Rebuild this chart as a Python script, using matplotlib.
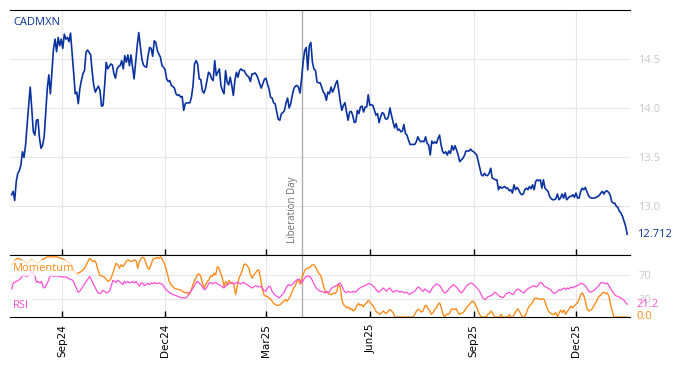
import pandas as pd
import matplotlib
matplotlib.use('Agg')
import matplotlib.pyplot as plt
import matplotlib.dates as mdates
import matplotlib.transforms as mtransforms
from matplotlib.ticker import FormatStrFormatter

ticker = 'CADMXN'
start_date = '2024-07-18'
end_date = '2026-01-15'
event_date = '2025-04-02'
event_name = 'Liberation Day'

# daily close
price = [
    13.115, 13.149, 13.057, 13.25, 13.334, 13.361, 13.419, 13.554, 13.497, 13.622,
    13.824, 14.027, 14.213, 13.993, 13.757, 13.723, 13.875, 13.882, 13.689, 13.588,
    13.622, 13.706, 13.959, 14.196, 14.338, 14.145, 14.365, 14.601, 14.703, 14.574,
    14.72, 14.635, 14.703, 14.608, 14.753, 14.703, 14.72, 14.676, 14.764, 14.568,
    14.365, 14.145, 14.162, 14.044, 14.196, 14.28, 14.348, 14.382, 14.568, 14.591,
    14.568, 14.541, 14.365, 14.23, 14.162, 14.196, 14.223, 14.179, 14.017, 14.027,
    14.23, 14.466,
    14.399, 14.426, 14.449, 14.439, 14.348, 14.304, 14.399, 14.426, 14.432, 14.483,
    14.399, 14.534, 14.466, 14.541, 14.432, 14.541, 14.416, 14.297, 14.466, 14.635,
    14.77, 14.635, 14.5, 14.439, 14.422, 14.416, 14.534, 14.618, 14.608, 14.527,
    14.686, 14.669, 14.584, 14.551, 14.517, 14.432, 14.416, 14.389, 14.297, 14.27,
    14.28, 14.23, 14.22, 14.203, 14.145, 14.128, 14.135, 14.111, 14.118, 13.976,
    14.044, 14.054, 14.051, 14.054, 14.111, 14.23, 14.449, 14.483, 14.449, 14.297,
    14.291, 14.179, 14.152, 14.196, 14.28, 14.365, 14.348, 14.297,
    14.28, 14.483, 14.331, 14.365, 14.399, 14.23, 14.179, 14.145, 14.382, 14.264,
    14.236, 14.314, 14.23, 14.128, 14.28, 14.365, 14.314, 14.382, 14.399, 14.382,
    14.382, 14.348, 14.331, 14.314, 14.27, 14.348, 14.348, 14.358, 14.338, 14.297,
    14.247, 14.203, 14.247, 14.291, 14.304, 14.247, 14.196, 14.111, 14.101, 14.054,
    14.041, 13.959, 13.885, 13.875, 13.943, 13.953, 13.976, 14.054, 14.101, 14.0,
    14.044, 14.128, 14.196, 14.223, 14.23, 14.213, 14.152, 14.297, 14.466, 14.584,
    14.618, 14.389, 14.635, 14.669, 14.466, 14.399,
    14.382, 14.264, 14.257, 14.257, 14.213, 14.162, 14.145, 14.078, 14.162, 14.145,
    14.213, 14.162, 14.196, 14.247, 14.28, 14.179, 14.061, 13.976, 14.027, 14.054,
    13.959, 13.875, 13.959, 13.966, 13.926, 13.851, 13.858, 13.976, 13.943, 14.01,
    14.02, 13.959, 14.01, 14.01, 14.135, 14.027, 14.034, 14.027, 13.976, 13.926,
    13.943, 13.851, 13.909, 13.953, 13.943, 13.892, 13.885, 13.909, 14.0, 13.926,
    13.858, 13.797, 13.841, 13.774, 13.784, 13.757, 13.764, 13.831, 13.74, 13.723,
    13.672, 13.628, 13.628, 13.628, 13.628, 13.655, 13.706,
    13.672, 13.655, 13.662, 13.655, 13.706, 13.639, 13.622, 13.52, 13.662, 13.639,
    13.655, 13.639, 13.689, 13.723, 13.622, 13.554, 13.537, 13.554, 13.52, 13.561,
    13.537, 13.615, 13.571, 13.615, 13.571, 13.52, 13.453, 13.47, 13.486, 13.514,
    13.561, 13.561, 13.561, 13.581, 13.561, 13.554, 13.537, 13.52, 13.453, 13.385,
    13.318, 13.307, 13.334, 13.311, 13.311, 13.334, 13.385, 13.284, 13.277, 13.267,
    13.267, 13.166, 13.199, 13.182, 13.189, 13.199, 13.182, 13.182, 13.155, 13.166,
    13.132, 13.216, 13.166,
    13.189, 13.166, 13.132, 13.115, 13.122, 13.166, 13.182, 13.166, 13.199, 13.176,
    13.216, 13.166, 13.25, 13.267, 13.257, 13.267, 13.182, 13.267, 13.182, 13.166,
    13.149, 13.098, 13.074, 13.064, 13.064, 13.074, 13.122, 13.064, 13.081, 13.122,
    13.081, 13.132, 13.064, 13.081, 13.098, 13.098, 13.115, 13.088, 13.132, 13.081,
    13.081, 13.149, 13.182, 13.166, 13.189, 13.149, 13.108, 13.088, 13.081, 13.081,
    13.081, 13.088, 13.098, 13.108, 13.132, 13.149, 13.122, 13.149, 13.155, 13.139,
    13.115, 13.047, 13.03, 13.03, 12.997, 12.986, 12.946, 12.929, 12.895, 12.845,
    12.794, 12.712,
]

momentum = [
    86.6, 90.4, 94.8, 96.4, 97.5, 95.9, 94.8, 93.7, 92.1, 90.4,
    89.3, 92.1, 94.8, 93.7, 92.1, 90.4, 89.3, 92.1, 94.8, 95.9,
    97.5, 99.2, 100, 100, 100, 100, 100, 100, 99.2, 98.1,
    97.5, 95.9, 94.8, 93.2, 92.1, 89.3, 86.6, 81.1, 75.6, 71.8,
    72.9, 74.0, 75.6, 78.4, 81.1, 86.6, 92.1, 97.5, 94.8, 92.1,
    93.7, 89.3, 78.4, 70.1, 68.5, 67.4, 66.3, 63.0, 59.2, 60.8,
    64.7, 72.9, 81.1, 89.3, 86.6, 81.1, 86.6, 83.8, 86.6, 92.1,
    94.8, 93.7, 92.1, 93.2, 94.8, 93.7, 81.1, 92.1, 97.5, 99.2,
    97.5, 89.3, 81.1, 79.5, 86.6, 94.8, 97.5, 97.5, 99.2, 97.5,
    100, 94.8, 89.3, 81.1, 70.1, 59.2, 53.7, 51.0, 48.2, 46.6,
    46.0, 45.5, 44.4, 42.7, 41.1, 40.0, 41.1, 37.3, 42.7, 51.0,
    59.2, 64.7, 70.1,
    71.8, 67.4, 56.4, 48.2, 53.7, 59.2, 61.9, 68.5, 67.4, 72.9,
    70.1, 83.8, 81.1, 72.9, 64.7, 51.0, 59.2, 53.7, 60.8, 56.4,
    57.5, 53.7, 37.3, 51.0, 64.7, 70.1, 77.3, 86.6, 88.2, 84.9,
    81.1, 70.1, 64.7, 70.1, 72.9, 77.3, 78.4, 64.7, 48.2, 37.3,
    34.5, 34.5, 31.8, 30.1, 26.3, 22.5, 20.8, 19.2, 19.2, 20.8,
    23.6, 26.3, 29.0, 26.3, 30.1, 34.5, 41.1, 48.2, 52.1, 59.2,
    60.8, 54.3, 64.7, 72.9, 78.4, 81.1, 81.1, 82.7, 86.6, 86.6,
    83.8, 78.4, 72.9, 70.1, 63.0, 51.0, 42.7, 41.1, 38.9, 37.3,
    37.3, 40.0, 38.9, 42.7, 53.7, 51.0, 29.0, 20.8, 18.1, 15.3,
    17.0, 12.6, 13.7, 9.9, 12.6, 18.1, 22.5, 19.2, 20.8, 17.0,
    20.8, 23.6, 27.9, 24.7, 20.8, 18.1, 12.6, 8.2, 6.0, 4.4,
    7.1, 9.9, 7.1, 6.0, 9.9, 12.6, 9.9, 7.1, 0, 0,
    0, 0, 0, 0, 0, 0, 0, 0, 0, 0,
    4.4, 9.9, 12.6, 11.5, 8.2, 9.9, 18.1, 19.2,
    13.7, 9.9, 4.4, 7.1, 12.6, 15.3, 20.8, 23.6, 15.3, 4.4,
    0, 4.4, 4.4, 6.0, 12.6, 13.7, 12.6, 13.7, 7.1, 4.4,
    6.0, 7.1, 9.9, 15.3, 18.1, 20.8, 24.7, 26.3, 23.6, 18.1,
    11.5, 4.4, 0, 0, 0, 0, 4.4, 6.0, 9.9, 6.0,
    0, 0, 0, 0, 4.4, 0, 0, 0, 0, 4.4,
    0, 0, 4.4, 9.9, 13.7, 9.9, 4.4, 0, 0, 4.4,
    12.6, 18.1, 20.8, 24.7, 30.1, 31.8, 30.1, 30.1, 29.0, 30.1,
    29.0, 20.8, 12.6, 8.2, 6.0, 4.4, 4.4, 7.1, 0, 7.1,
    11.5, 7.1, 11.5, 4.4, 9.9, 12.6, 18.1, 15.3, 18.1, 20.8,
    23.6, 29.0, 37.3, 40.0, 34.5, 23.6, 12.6, 9.9, 11.5, 13.7,
    19.2, 23.6, 29.0, 34.5, 35.6, 40.0, 41.1, 38.9, 40.0, 34.5,
    20.8, 9.9, 0, 0, 0, 0, 0, 0, 0, 0,
    0.0,
]

rsi = [
    46.6, 56.4, 58.1, 59.2, 60.8, 63.0, 66.3, 70.1, 68.5, 67.4,
    68.5, 70.1, 77.3, 71.8, 70.1, 57.5, 59.2, 56.4, 59.2, 49.9,
    48.2, 53.7, 59.2, 67.4, 70.1, 67.4, 68.0, 68.5, 68.0, 67.4,
    66.9, 66.3, 66.3, 66.3, 64.7, 63.0, 61.9, 60.8, 53.7, 48.2,
    41.1, 42.7, 46.6, 51.0, 55.3, 59.2, 63.0, 67.4, 61.9, 56.4,
    51.0, 45.5, 40.0, 38.9, 40.0, 44.4, 42.7, 40.0, 41.1, 42.7,
    51.0, 60.8, 59.2, 57.5, 60.8, 59.2, 56.4, 53.7, 59.2, 56.4,
    59.2, 56.4, 57.5, 59.2, 56.4, 59.2, 55.3, 51.0, 56.4, 56.4,
    52.1, 53.7, 56.4, 53.7, 56.4, 55.3, 57.5, 55.3, 55.9, 56.4,
    55.3, 53.7, 49.9, 45.5, 43.3, 41.1, 38.9, 37.3, 36.7, 35.6,
    34.5, 33.4, 32.3, 31.8, 31.8, 31.8, 34.5, 40.0, 42.7, 46.6,
    51.0, 56.4, 59.2,
    56.4, 53.7, 49.9, 45.5, 46.6, 51.0, 56.4, 57.5, 54.8, 56.4,
    57.5, 54.8, 53.7, 52.1, 49.9, 48.2, 51.0, 53.7, 54.8, 56.4,
    56.4, 55.3, 56.4, 57.5, 56.4, 55.3, 56.4, 57.5, 55.3, 53.7,
    52.1, 49.9, 48.2, 49.9, 52.1, 51.0, 49.9, 51.0, 48.2, 44.4,
    42.7, 46.6, 51.0, 49.9, 42.7, 38.9, 35.6, 34.5, 31.8, 33.4,
    37.3, 40.0, 45.5, 51.0, 53.7, 52.1, 53.7, 56.4, 59.2, 61.9,
    63.0, 60.8, 56.4, 61.9, 66.3, 67.4, 68.5, 66.3, 61.9, 56.4,
    51.0, 46.6, 44.4, 42.7, 42.7, 41.1, 40.0, 42.7, 40.0, 44.4,
    48.2, 49.9, 51.0, 52.1, 55.3, 56.4, 52.1, 45.5, 41.1, 41.1,
    42.7, 41.1, 41.1, 42.7, 41.1, 42.7, 46.6, 48.2, 49.9, 51.0,
    52.1, 53.7, 55.3, 55.3, 53.7, 51.0, 48.2, 44.4, 41.1, 42.7,
    45.5, 48.2, 45.5, 42.7, 46.6, 48.2, 44.4, 41.1, 42.7, 44.4,
    42.7, 41.1, 42.7, 41.1, 40.0, 41.1, 38.9, 37.3, 40.0, 41.1,
    42.7, 46.6, 49.9, 48.2, 44.4, 42.7, 46.6, 44.4,
    42.7, 40.0, 45.5, 49.9, 52.1, 55.3, 53.7, 52.1, 48.2, 42.7,
    40.0, 41.1, 44.4, 48.2, 51.0, 53.7, 52.1, 49.9, 46.6, 42.7,
    40.0, 42.7, 46.6, 51.0, 53.7, 55.3, 56.4, 55.3, 52.1, 49.9,
    46.6, 42.7, 37.3, 31.8, 29.0, 30.1, 33.4, 34.5, 35.6, 37.3,
    41.1, 40.0, 37.3, 34.5, 33.4, 31.8, 34.5, 38.9, 40.0, 41.1,
    38.9, 37.3, 40.0, 44.4, 46.6, 45.5, 42.7, 41.1, 40.0, 44.4,
    46.6, 48.2, 49.9, 51.0, 52.1, 49.9, 51.0, 56.4, 57.5, 55.3,
    51.0, 49.9, 48.2, 46.6, 45.5, 41.1, 38.9, 40.0, 42.7, 45.5,
    44.4, 46.6, 48.2, 45.5, 48.2, 46.6, 49.9, 48.2, 49.9, 51.0,
    52.1, 53.7, 56.4, 55.3, 53.7, 51.0, 46.6, 42.7, 41.1, 42.7,
    44.4, 46.6, 49.9, 52.1, 56.4, 57.5, 56.4, 55.3, 56.4, 52.1,
    48.2, 42.7, 38.9, 35.6, 34.5, 33.4, 31.8, 30.1, 27.9, 24.7,
    21.2,
]

price_dates = pd.date_range(start_date, end_date, periods=len(price))
mom_dates = pd.date_range(start_date, end_date, periods=len(momentum))
rsi_dates = pd.date_range(start_date, end_date, periods=len(rsi))

BLUE = '#0b33a0'
ORANGE = '#ff8c1a'
PINK = '#ff4fd8'
GRID = '#e6e6e6'
TICKGRAY = '#c8c8c8'

fig = plt.figure(figsize=(6.81, 3.66), dpi=100)
ax1 = fig.add_axes([0.0147, 0.3033, 0.9101, 0.6694])
ax2 = fig.add_axes([0.0147, 0.1339, 0.9101, 0.1694], sharex=ax1)

# price panel
ax1.plot(price_dates, price, color=BLUE, lw=1.2, zorder=3)
ax1.set_ylim(12.5, 15.0)
ax1.set_yticks([13.0, 13.5, 14.0, 14.5])
ax1.yaxis.set_major_formatter(FormatStrFormatter('%.1f'))

# indicator panel
ax2.plot(mom_dates, momentum, color=ORANGE, lw=1.0, zorder=3)
ax2.plot(rsi_dates, rsi, color=PINK, lw=0.9, zorder=3)
ax2.set_ylim(0, 103)
ax2.set_yticks([30, 70])

ax1.set_xlim(pd.Timestamp('2024-07-16 14:00'), pd.Timestamp('2026-01-17 08:00'))
ax2.xaxis.set_major_locator(mdates.MonthLocator(bymonth=[3, 6, 9, 12]))
ax2.xaxis.set_major_formatter(mdates.DateFormatter('%b%y'))

for ax in (ax1, ax2):
    ax.set_axisbelow(True)
    ax.grid(True, color=GRID, lw=0.8)
    ax.spines['left'].set_visible(False)
    ax.spines['right'].set_visible(False)
    ax.spines['top'].set_color('black')
    ax.spines['bottom'].set_color('black')
    ax.yaxis.tick_right()
    ax.tick_params(axis='y', length=0, labelcolor=TICKGRAY, labelsize=8, pad=6)
    ax.tick_params(axis='x', direction='in', length=4, width=1, color='black')
    for lab in ax.get_yticklabels():
        lab.set_fontfamily('Open Sans')
    ax.axvline(pd.Timestamp(event_date), color='#b0b0b0', lw=1, zorder=2)

ax1.tick_params(axis='x', labelbottom=False)
ax2.tick_params(axis='x', labelsize=7.5, labelrotation=90, pad=5)

# labels
ax1.text(0.005, 0.971, ticker, transform=ax1.transAxes, color=BLUE, fontsize=8,
         va='top', ha='left', family='Open Sans')
ax2.text(0.005, 0.79, 'Momentum', transform=ax2.transAxes, color=ORANGE, fontsize=8,
         va='center', ha='left', family='Open Sans', zorder=4,
         bbox=dict(facecolor='white', alpha=0.75, edgecolor='none', pad=2))
ax2.text(0.005, 0.19, 'RSI', transform=ax2.transAxes, color=PINK, fontsize=8,
         va='center', ha='left', family='Open Sans', zorder=4,
         bbox=dict(facecolor='white', alpha=0.85, edgecolor='none', pad=2))

ax1.annotate(event_name, xy=(pd.Timestamp(event_date), 12.62), xytext=(-3, 0),
             textcoords='offset points', rotation=90, ha='right', va='bottom',
             color='#707070', fontsize=7, family='Open Sans')

# last values on the right
t1 = mtransforms.blended_transform_factory(ax1.transAxes, ax1.transData)
ax1.annotate(f'{price[-1]:.3f}', xy=(1, price[-1]), xycoords=t1, xytext=(5, 0),
             textcoords='offset points', va='center', ha='left', color=BLUE,
             fontsize=8, family='Open Sans', annotation_clip=False)
t2 = mtransforms.blended_transform_factory(ax2.transAxes, ax2.transData)
ax2.annotate(f'{rsi[-1]:.1f}', xy=(1, rsi[-1]), xycoords=t2, xytext=(5, 0),
             textcoords='offset points', va='center', ha='left', color=PINK,
             fontsize=8, family='Open Sans', annotation_clip=False)
ax2.annotate(f'{momentum[-1]:.1f}', xy=(1, momentum[-1]), xycoords=t2, xytext=(5, 0),
             textcoords='offset points', va='center', ha='left', color=ORANGE,
             fontsize=8, family='Open Sans', annotation_clip=False)

fig.savefig('out.png', dpi=100)
